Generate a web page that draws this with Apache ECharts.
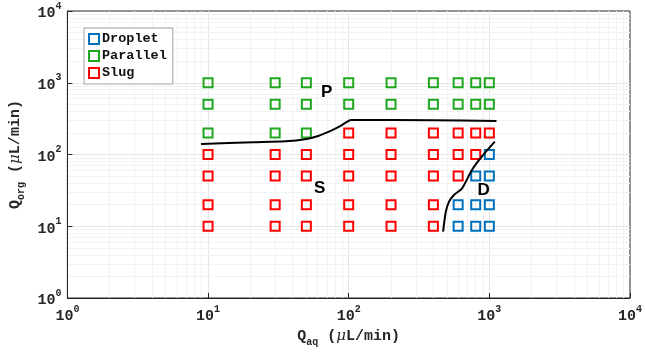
<!DOCTYPE html>
<html><head><meta charset="utf-8">
<script src="https://cdn.jsdelivr.net/npm/echarts@6/dist/echarts.min.js"></script>
<style>html,body{margin:0;padding:0;background:#fff}#c{width:645px;height:354px}</style>
</head><body><div id="c"></div>
<script>
// ---- data ----
const dropletPts = [[600,20],[600,10],[800,50],[800,20],[800,10],[1000,100],[1000,50],[1000,20],[1000,10]];
const parallelPts = [[10,1000],[10,500],[10,200],[30,1000],[30,500],[30,200],[50,1000],[50,500],[50,200],
  [100,1000],[100,500],[200,1000],[200,500],[400,1000],[400,500],[600,1000],[600,500],[800,1000],[800,500],[1000,1000],[1000,500]];
const slugPts = [[10,100],[10,50],[10,20],[10,10],[30,100],[30,50],[30,20],[30,10],[50,100],[50,50],[50,20],[50,10],
  [100,200],[100,100],[100,50],[100,20],[100,10],[200,200],[200,100],[200,50],[200,20],[200,10],
  [400,200],[400,100],[400,50],[400,20],[400,10],[600,200],[600,100],[600,50],[800,200],[800,100],[1000,200]];
const boundaryPS = [[8.9,140],[20.8,148],[35.5,153],[48.9,163],[60.6,181],[75.1,215],[88.3,252],[104,303],[400,300],[1124,293]];
const boundarySD = [[469,8.4],[490,15.8],[517,22],[560,27.3],[640,33.8],[752,60.8],[883,93.2],[1093,151]];
const regionLabels = [{name:'P', value:[69.7,743]},{name:'S', value:[62.2,34.1]},{name:'D', value:[912,32]}];
const seriesNames = ['Droplet','Parallel','Slug'];
const seriesColors = ['#0072BD','#1FA71F','#FF0000'];
const tickExps = ['0','1','2','3','4'];
const gridMinor = [2,3,4,5,6,7,8,9];
const decades = [1,10,100,1000];

// ---- grid lines (via axis scales) ----
const xLines = [], yLines = [];
decades.forEach(d => gridMinor.forEach(m => { xLines.push({v:d*m, major:false}); yLines.push({v:d*m, major:false}); }));
[10,100,1000].forEach(d => { xLines.push({v:d, major:true}); yLines.push({v:d, major:true}); });
const gridMark = {
  silent: true, symbol: ['none','none'], label:{show:false}, z:0,
  data: xLines.map(o => ({xAxis:o.v, lineStyle:{color:o.major?'#e6e6e6':'#f2f2f2', width:1, type:'solid'}}))
    .concat(yLines.map(o => ({yAxis:o.v, lineStyle:{color:o.major?'#e6e6e6':'#f2f2f2', width:1, type:'solid'}})))
};

const tickFont = 'Liberation Mono';
const richTick = {
  b:{fontFamily:tickFont, fontSize:15, color:'#262626', lineHeight:20, verticalAlign:'bottom', fontWeight:'bold'},
  s:{fontFamily:tickFont, fontSize:10, color:'#262626', lineHeight:20, verticalAlign:'top', fontWeight:'bold'}
};
function fmtTick(v){
  const e = Math.round(Math.log10(v));
  return '{b|10}{s|' + tickExps[e] + '}';
}
const richName = {
  b:{fontFamily:tickFont, fontSize:15, color:'#262626', lineHeight:22, verticalAlign:'middle', fontWeight:'bold'},
  s:{fontFamily:tickFont, fontSize:10, color:'#262626', lineHeight:22, verticalAlign:'bottom', fontWeight:'bold'},
  m:{fontFamily:'DejaVu Serif', fontStyle:'italic', fontSize:15, color:'#262626', lineHeight:22, verticalAlign:'middle'}
};

function scatterSeries(i, pts){
  return {
    name: seriesNames[i], type:'scatter', data: pts, symbol:'rect', symbolSize:9,
    itemStyle:{color:'rgba(255,255,255,0)', borderColor:seriesColors[i], borderWidth:2, opacity:1},
    z: 5
  };
}

const chart = echarts.init(document.getElementById('c'), null, {renderer:'canvas'});
chart.setOption({
  animation:false,
  backgroundColor:'#fff',
  grid:{left:58, top:11, width:573, height:287, show:true, borderColor:'#262626', borderWidth:1, backgroundColor:'transparent'},
  legend:{
    data: seriesNames, orient:'vertical', left:84, top:28, z:20,
    padding:[4,6,4,4], itemGap:3, itemWidth:10, itemHeight:10,
    backgroundColor:'#fff', borderColor:'#a0a0a0', borderWidth:1, borderRadius:0,
    textStyle:{fontFamily:tickFont, fontSize:13.5, fontWeight:'bold', color:'#111', padding:[0,0,0,-2]},
    selectedMode:false
  },
  xAxis:{
    type:'log', logBase:10, min:1, max:10000,
    axisLine:{show:true, lineStyle:{color:'#262626', width:1}},
    axisTick:{show:true, inside:true, length:5, lineStyle:{color:'#262626'}},
    splitLine:{show:false},
    axisLabel:{formatter:fmtTick, rich:richTick, margin:6},
    name:'{b|Q}{s|aq}{b| (}{m|μ}{b|L/min)}', nameLocation:'middle', nameGap:26,
    nameTextStyle:{rich:richName}
  },
  yAxis:{
    type:'log', logBase:10, min:1, max:10000,
    axisLine:{show:true, lineStyle:{color:'#262626', width:1}},
    axisTick:{show:true, inside:true, length:5, lineStyle:{color:'#262626'}},
    splitLine:{show:false},
    axisLabel:{formatter:fmtTick, rich:richTick, margin:6},
    name:'{b|Q}{s|org}{b| (}{m|μ}{b|L/min)}', nameLocation:'middle', nameGap:30, nameRotate:90,
    nameTextStyle:{rich:richName}
  },
  series:[
    {type:'line', data:[], markLine:gridMark, z:0, silent:true},
    scatterSeries(0, dropletPts),
    scatterSeries(1, parallelPts),
    scatterSeries(2, slugPts),
    {type:'line', data:boundaryPS, smooth:0.25, symbol:'none', lineStyle:{color:'#000', width:2}, z:6, silent:true},
    {type:'line', data:boundarySD, smooth:0.25, symbol:'none', lineStyle:{color:'#000', width:2}, z:6, silent:true},
    {type:'scatter', data:regionLabels, symbolSize:0, z:7, silent:true, itemStyle:{opacity:1},
      label:{show:true, position:'inside', formatter:p=>p.name, fontFamily:'Liberation Sans', fontWeight:'bold', fontSize:17, color:'#000', textBorderWidth:0}}
  ]
});
</script></body></html>
